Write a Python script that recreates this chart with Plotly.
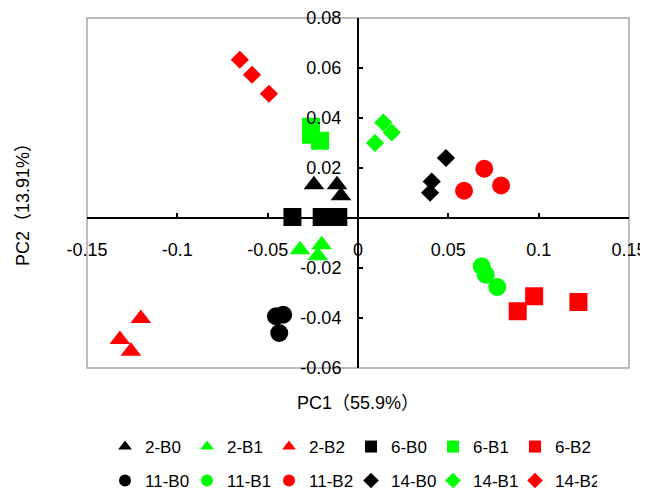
import plotly.graph_objects as go

# ---- data (PC1, PC2) ----
x_2_B0 = [-0.0244, -0.0116, -0.0094]
y_2_B0 = [0.0133, 0.0133, 0.0089]
x_2_B1 = [-0.0321, -0.0201, -0.0222]
y_2_B1 = [-0.0127, -0.0107, -0.0151]
x_2_B2 = [-0.1202, -0.1318, -0.1257]
y_2_B2 = [-0.0402, -0.0486, -0.0533]
x_6_B0 = [-0.0363, -0.0201, -0.0109]
y_6_B0 = [0.0004, 0.0004, 0.0004]
x_6_B1 = [-0.0260, -0.0260, -0.0210]
y_6_B1 = [0.0365, 0.0333, 0.0309]
x_6_B2 = [0.0975, 0.0884, 0.1220]
y_6_B2 = [-0.0313, -0.0373, -0.0336]
x_11_B0 = [-0.0454, -0.0414, -0.0436]
y_11_B0 = [-0.0393, -0.0387, -0.0460]
x_11_B1 = [0.0685, 0.0707, 0.0771]
y_11_B1 = [-0.0193, -0.0227, -0.0276]
x_11_B2 = [0.0699, 0.0792, 0.0587]
y_11_B2 = [0.0197, 0.0130, 0.0109]
x_14_B0 = [0.0487, 0.0408, 0.0399]
y_14_B0 = [0.0240, 0.0146, 0.0101]
x_14_B1 = [0.0140, 0.0187, 0.0094]
y_14_B1 = [0.0382, 0.0342, 0.0300]
x_14_B2 = [-0.0654, -0.0587, -0.0493]
y_14_B2 = [0.0633, 0.0573, 0.0497]

series_names = ["2-B0", "2-B1", "2-B2", "6-B0", "6-B1", "6-B2",
                "11-B0", "11-B1", "11-B2", "14-B0", "14-B1", "14-B2"]
series_x = [x_2_B0, x_2_B1, x_2_B2, x_6_B0, x_6_B1, x_6_B2,
            x_11_B0, x_11_B1, x_11_B2, x_14_B0, x_14_B1, x_14_B2]
series_y = [y_2_B0, y_2_B1, y_2_B2, y_6_B0, y_6_B1, y_6_B2,
            y_11_B0, y_11_B1, y_11_B2, y_14_B0, y_14_B1, y_14_B2]

x_tick_vals = [-0.15, -0.1, -0.05, 0, 0.05, 0.1, 0.15]
x_tick_text = ["-0.15", "-0.1", "-0.05", "0", "0.05", "0.1", "0.15"]
y_tick_vals = [-0.06, -0.04, -0.02, 0.02, 0.04, 0.06, 0.08]
y_tick_text = ["-0.06", "-0.04", "-0.02", "0.02", "0.04", "0.06", "0.08"]
x_range = [-0.15, 0.15]
y_range = [-0.06, 0.08]

x_title = "PC1（55.9%）"
y_title = "PC2（13.91%）"

# ---- styles ----
symbol_by_day = {"2": "triangle-up", "6": "square", "11": "circle", "14": "diamond"}
size_by_day = {"2": 18, "6": 18, "11": 18, "14": 14}
color_by_treat = {"B0": "#000000", "B1": "#00FF00", "B2": "#FF0000"}

FONT = "Liberation Sans, Arial, Noto Sans CJK SC, sans-serif"

fig = go.Figure()
for i, (name, xs, ys) in enumerate(zip(series_names, series_x, series_y)):
    day, treat = name.split("-")
    fig.add_trace(go.Scatter(
        x=xs, y=ys, mode="markers", name=name,
        marker=dict(symbol=symbol_by_day[day], size=size_by_day[day],
                    color=color_by_treat[treat], line=dict(width=0)),
        legend="legend" if i < 6 else "legend2",
        cliponaxis=False,
    ))

# the page body has an 8px margin, so the figure is 8px smaller each way
W, H = 640, 484
fig.update_layout(
    width=W, height=H,
    margin=dict(l=79, r=19, t=10, b=124, autoexpand=False),
    paper_bgcolor="white", plot_bgcolor="white",
    font=dict(family=FONT, size=18, color="#000000"),
    xaxis=dict(range=x_range, domain=[0, 1], anchor="free",
               position=(0 - y_range[0]) / (y_range[1] - y_range[0]),
               tickmode="array", tickvals=x_tick_vals, ticktext=x_tick_text,
               showline=True, linecolor="#000000", linewidth=2,
               ticks="inside", ticklen=4, tickwidth=1.5, tickcolor="#000000",
               showgrid=False, zeroline=False, ticklabelstandoff=15,
               automargin=False, tickfont=dict(size=18)),
    yaxis=dict(range=y_range, domain=[0, 1], anchor="free",
               position=(0 - x_range[0]) / (x_range[1] - x_range[0]),
               tickmode="array", tickvals=y_tick_vals, ticktext=y_tick_text,
               showline=True, linecolor="#000000", linewidth=2,
               ticks="inside", ticklen=4, tickwidth=1.5, tickcolor="#000000",
               showgrid=False, zeroline=False, ticklabelstandoff=12,
               automargin=False, tickfont=dict(size=18)),
    legend=dict(orientation="h", xref="container", yref="container",
                x=97 / W, y=1 - 439 / H, xanchor="left", yanchor="middle",
                entrywidth=37, entrywidthmode="pixels", itemsizing="constant",
                font=dict(size=17), bgcolor="rgba(0,0,0,0)"),
    legend2=dict(orientation="h", xref="container", yref="container",
                 x=97 / W, y=1 - 473 / H, xanchor="left", yanchor="middle",
                 entrywidth=37, entrywidthmode="pixels", itemsizing="constant",
                 font=dict(size=17), bgcolor="rgba(0,0,0,0)"),
    showlegend=True,
)

# plot-area border
fig.add_shape(type="rect", xref="paper", yref="paper", x0=0, x1=1, y0=0, y1=1,
              line=dict(color="#A6A6A6", width=1.5), layer="below")

# axis titles
fig.add_annotation(text=x_title, xref="paper", yref="paper", x=0.5, y=0,
                   yshift=-35, showarrow=False, xanchor="center", yanchor="middle",
                   font=dict(size=18))
fig.add_annotation(text=y_title, xref="paper", yref="paper", x=0, y=0.5,
                   xshift=-64, yshift=-7, showarrow=False, textangle=-90,
                   xanchor="center", yanchor="middle", font=dict(size=18))

fig.write_html("out.html")
